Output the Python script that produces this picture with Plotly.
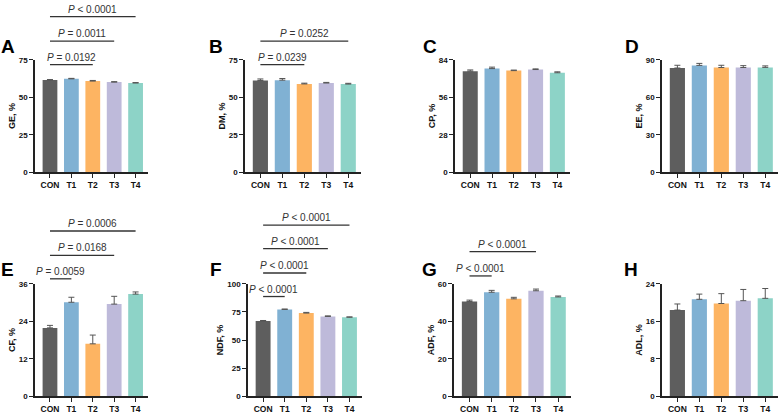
import plotly.graph_objects as go

# groups and colours shared by every panel
groups = ["CON", "T1", "T2", "T3", "T4"]
colors = ["#5e5e5e", "#80b1d3", "#fdb462", "#bebada", "#8dd3c7"]

letters = ["A", "B", "C", "D", "E", "F", "G", "H"]
y_titles = ["GE, %", "DM, %", "CP, %", "EE, %", "CF, %", "NDF, %", "ADF, %", "ADL, %"]
y_max = [75, 75, 84, 90, 36, 100, 60, 24]
y_step = [25, 25, 28, 30, 12, 25, 20, 8]

# means and SEM
ge_mean = [61.5, 62.3, 60.8, 60.1, 59.5]
ge_sem = [0.3, 0.3, 0.4, 0.3, 0.3]
dm_mean = [61.2, 61.4, 58.9, 59.5, 58.8]
dm_sem = [1.0, 1.1, 0.5, 0.4, 0.5]
cp_mean = [75.5, 77.4, 75.9, 76.7, 74.3]
cp_sem = [0.9, 1.1, 0.4, 0.5, 0.7]
ee_mean = [83.4, 85.5, 83.8, 83.8, 83.9]
ee_sem = [2.2, 1.6, 1.8, 1.5, 1.2]
cf_mean = [21.9, 30.1, 16.8, 29.5, 32.7]
cf_sem = [0.8, 1.6, 2.8, 2.5, 0.7]
ndf_mean = [67.0, 77.2, 74.0, 71.0, 70.3]
ndf_sem = [0.4, 0.4, 0.6, 0.5, 0.3]
adf_mean = [50.6, 55.5, 52.0, 56.3, 53.0]
adf_sem = [0.7, 1.0, 0.8, 0.9, 0.5]
adl_mean = [18.4, 20.7, 19.8, 20.4, 20.9]
adl_sem = [1.3, 1.1, 2.1, 2.4, 2.1]

means = [ge_mean, dm_mean, cp_mean, ee_mean, cf_mean, ndf_mean, adf_mean, adl_mean]
sems = [ge_sem, dm_sem, cp_sem, ee_sem, cf_sem, ndf_sem, adf_sem, adl_sem]

# significance brackets: CON vs group, p label, bracket height (data units)
ge_p_group = ["T2", "T3", "T4"]
ge_p_text = ["= 0.0192", "= 0.0011", "< 0.0001"]
ge_p_level = [71.7, 87.4, 103.7]
dm_p_group = ["T2", "T4"]
dm_p_text = ["= 0.0239", "= 0.0252"]
dm_p_level = [71.7, 87.4]
cf_p_group = ["T1", "T3", "T4"]
cf_p_text = ["= 0.0059", "= 0.0168", "= 0.0006"]
cf_p_level = [37.6, 45.1, 52.9]
ndf_p_group = ["T1", "T2", "T3", "T4"]
ndf_p_text = ["< 0.0001", "< 0.0001", "< 0.0001", "< 0.0001"]
ndf_p_level = [88.7, 109.6, 131.3, 152.2]
adf_p_group = ["T1", "T3"]
adf_p_text = ["< 0.0001", "< 0.0001"]
adf_p_level = [64.2, 77.2]

sig = {
    0: (ge_p_group, ge_p_text, ge_p_level),
    1: (dm_p_group, dm_p_text, dm_p_level),
    4: (cf_p_group, cf_p_text, cf_p_level),
    5: (ndf_p_group, ndf_p_text, ndf_p_level),
    6: (adf_p_group, adf_p_text, adf_p_level),
}

W, H = 779, 416
# plot areas in pixels (left, right, top, bottom)
boxes = [
    (35, 148, 57, 172), (245, 361, 57, 172), (455, 570, 57, 172), (662, 778, 57, 172),
    (35, 148, 286, 401), (248, 362, 286, 401), (454, 571, 286, 401), (662, 778, 286, 401),
]
letter_pos = [(8, 43), (216, 43), (430, 43), (632, 43), (8, 271), (216, 271), (429, 271), (631, 271)]
xr = [-0.7, 4.58]

font_fam = "Liberation Sans, Arial, sans-serif"
axis_col = "#222222"

fig = go.Figure()
layout = {}
shapes = []
annots = []

for i in range(8):
    n = "" if i == 0 else str(i + 1)
    fig.add_trace(go.Bar(
        x=groups, y=means[i],
        marker=dict(color=colors, line=dict(width=0)),
        width=0.69,
        error_y=dict(type="data", symmetric=False, array=sems[i], arrayminus=[0] * 5,
                     color="#555555", thickness=1, width=3),
        xaxis="x" + n, yaxis="y" + n, showlegend=False,
    ))
    l, r, t, b = boxes[i]
    layout["xaxis" + n] = dict(
        domain=[l / W, r / W], anchor="y" + n, type="category", range=xr,
        showline=True, linecolor=axis_col, linewidth=1.5,
        ticks="outside", ticklen=4, tickwidth=1.2, tickcolor=axis_col,
        tickfont=dict(size=8.5, color="#111", weight="bold"), showgrid=False,
    )
    layout["yaxis" + n] = dict(
        domain=[1 - b / H, 1 - t / H], anchor="x" + n, range=[0, y_max[i]],
        tick0=0, dtick=y_step[i],
        showline=True, linecolor=axis_col, linewidth=1.5,
        ticks="outside", ticklen=4, tickwidth=1.2, tickcolor=axis_col,
        tickfont=dict(size=8, color="#111", weight="bold"), showgrid=False, zeroline=False,
        title=dict(text=y_titles[i], font=dict(size=9, color="#111", weight="bold"), standoff=2),
    )
    lx, ly = letter_pos[i]
    annots.append(dict(x=lx / W, y=1 - ly / H, xref="paper", yref="paper", text=letters[i],
                       xanchor="center", yanchor="middle",
                       showarrow=False, font=dict(size=19, color="black", weight="bold")))

    if i in sig:
        pg, pt, pl = sig[i]
        for g, txt, lev in zip(pg, pt, pl):
            x0 = (0 - xr[0]) / (xr[1] - xr[0])
            x1 = (groups.index(g) - xr[0]) / (xr[1] - xr[0])
            yf = lev / y_max[i]
            shapes.append(dict(type="line", xref="x" + n + " domain", yref="y" + n + " domain",
                               x0=x0, x1=x1, y0=yf, y1=yf, line=dict(color="#333", width=1.3)))
            annots.append(dict(x=(x0 + x1) / 2, y=yf, xref="x" + n + " domain", yref="y" + n + " domain",
                               text="<i>P</i> " + txt, showarrow=False,
                               xanchor="center", yanchor="bottom", yshift=0,
                               font=dict(size=10, color="#333")))

fig.update_layout(
    width=W, height=H, margin=dict(l=0, r=0, t=0, b=0),
    paper_bgcolor="white", plot_bgcolor="white",
    font=dict(family=font_fam), shapes=shapes, annotations=annots,
    **layout
)

# drop the browser's default body margin so the page is exactly the figure
fig.write_html("out.html", config={"displayModeBar": False},
               post_script="document.body.style.margin='0';")
